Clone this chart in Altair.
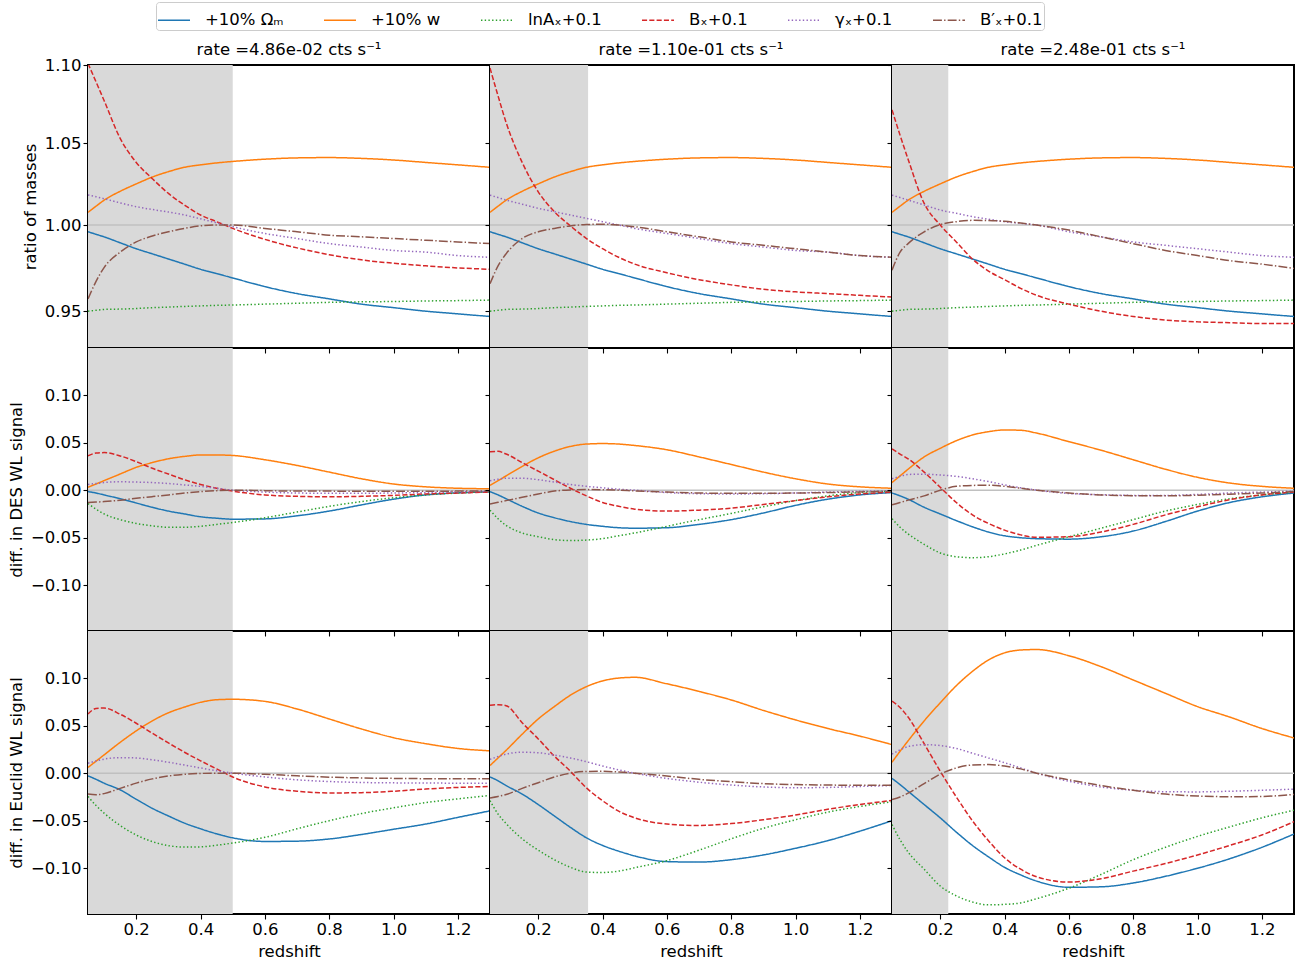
import altair as alt
import pandas as pd

FONT = "DejaVu Sans"
Z = [0.05, 0.075, 0.1, 0.15, 0.2, 0.25, 0.3, 0.35, 0.4, 0.45, 0.5, 0.6, 0.7, 0.8, 0.9, 1.0, 1.1, 1.2, 1.3]
SERIES = ["+10% Ωₘ", "+10% w", "lnAₓ+0.1", "Bₓ+0.1", "γₓ+0.1", "B′ₓ+0.1"]
COLORS = ["#1f77b4", "#ff7f0e", "#2ca02c", "#d62728", "#9467bd", "#8c564b"]
DASHES = [[1, 0], [1, 0], [1.4, 2.3], [5.1, 2.2], [1.4, 2.3], [8.9, 2.2, 1.4, 2.2]]
RATE_TITLES = ["rate =4.86e-02 cts s⁻¹", "rate =1.10e-01 cts s⁻¹", "rate =2.48e-01 cts s⁻¹"]
SHADE_END = [0.5, 0.355, 0.225]
ROW_TITLES = ["ratio of masses", "diff. in DES WL signal", "diff. in Euclid WL signal"]
X_TICKS = [0.2, 0.4, 0.6, 0.8, 1.0, 1.2]
MASS_TICKS = [0.95, 1.0, 1.05, 1.1]
DIFF_TICKS = [-0.1, -0.05, 0.0, 0.05, 0.1]

# ---- ratio of masses (top row) ----
MASS_OM = [0.996, 0.9945, 0.993, 0.9895, 0.986, 0.983, 0.980, 0.977, 0.974, 0.9715, 0.969, 0.964, 0.960, 0.957, 0.954, 0.952, 0.950, 0.9485, 0.947]
MASS_W = [1.0076, 1.0113, 1.0149, 1.0203, 1.0248, 1.029, 1.0323, 1.035, 1.0365, 1.0377, 1.0386, 1.040, 1.0408, 1.041, 1.0405, 1.0395, 1.038, 1.0365, 1.035]
MASS_LNA = [0.950, 0.9505, 0.951, 0.9512, 0.9515, 0.952, 0.9523, 0.9527, 0.953, 0.9533, 0.9535, 0.954, 0.9545, 0.955, 0.9553, 0.9555, 0.9558, 0.956, 0.9563]
MASS_BX = [
    [1.101, 1.089, 1.077, 1.053, 1.038, 1.028, 1.019, 1.012, 1.006, 1.002, 0.998, 0.9915, 0.9865, 0.9825, 0.9795, 0.9775, 0.976, 0.9748, 0.974],
    [1.098, 1.080, 1.063, 1.038, 1.020, 1.008, 0.9995, 0.992, 0.986, 0.981, 0.977, 0.972, 0.968, 0.965, 0.9625, 0.961, 0.960, 0.959, 0.958],
    [1.071, 1.055, 1.040, 1.013, 1.000, 0.990, 0.980, 0.973, 0.968, 0.963, 0.959, 0.954, 0.950, 0.947, 0.945, 0.944, 0.9435, 0.943, 0.943],
]
MASS_GX = [
    [1.018, 1.017, 1.0158, 1.0133, 1.011, 1.0093, 1.0078, 1.006, 1.0037, 1.0013, 0.999, 0.995, 0.992, 0.989, 0.987, 0.985, 0.984, 0.982, 0.981],
    [1.018, 1.0165, 1.015, 1.0125, 1.010, 1.008, 1.006, 1.004, 1.002, 1.000, 0.998, 0.995, 0.992, 0.989, 0.987, 0.985, 0.984, 0.982, 0.981],
    [1.018, 1.0165, 1.015, 1.012, 1.009, 1.007, 1.005, 1.0035, 1.002, 1.001, 1.0, 0.996, 0.993, 0.990, 0.988, 0.986, 0.984, 0.982, 0.981],
]
MASS_BPX = [
    [0.957, 0.967, 0.975, 0.984, 0.990, 0.9935, 0.996, 0.998, 0.9995, 1.0, 1.0, 0.998, 0.996, 0.994, 0.993, 0.992, 0.991, 0.990, 0.989],
    [0.9656, 0.976, 0.983, 0.992, 0.996, 0.998, 0.9995, 1.0003, 1.0005, 1.0, 0.999, 0.996, 0.993, 0.990, 0.988, 0.986, 0.984, 0.982, 0.981],
    [0.9735, 0.984, 0.989, 0.996, 1.0003, 1.002, 1.0028, 1.0027, 1.0022, 1.0012, 1.0, 0.997, 0.993, 0.989, 0.985, 0.982, 0.979, 0.977, 0.9745],
]

# ---- diff. in DES WL signal (middle row) ----
DES_OM = [
    [-0.0015, -0.003, -0.005, -0.009, -0.0135, -0.018, -0.022, -0.025, -0.028, -0.0295, -0.0305, -0.0302, -0.027, -0.022, -0.0155, -0.0095, -0.005, -0.0028, -0.0018],
    [-0.0015, -0.005, -0.009, -0.017, -0.024, -0.029, -0.033, -0.036, -0.038, -0.0395, -0.040, -0.0395, -0.036, -0.031, -0.024, -0.016, -0.0095, -0.005, -0.0025],
    [-0.003, -0.006, -0.0095, -0.018, -0.025, -0.032, -0.0385, -0.044, -0.048, -0.050, -0.051, -0.0515, -0.049, -0.043, -0.033, -0.022, -0.013, -0.007, -0.003],
]
DES_W = [
    [0.003, 0.0065, 0.010, 0.017, 0.024, 0.029, 0.033, 0.0355, 0.037, 0.037, 0.0365, 0.032, 0.026, 0.019, 0.012, 0.0065, 0.0035, 0.002, 0.0015],
    [0.005, 0.010, 0.015, 0.025, 0.034, 0.041, 0.046, 0.0485, 0.049, 0.0485, 0.047, 0.0425, 0.035, 0.027, 0.019, 0.012, 0.0065, 0.0035, 0.002],
    [0.008, 0.015, 0.022, 0.035, 0.044, 0.052, 0.058, 0.0615, 0.0633, 0.063, 0.060, 0.051, 0.042, 0.032, 0.022, 0.0135, 0.0075, 0.004, 0.002],
]
DES_LNA = [
    [-0.014, -0.020, -0.025, -0.031, -0.035, -0.0375, -0.039, -0.039, -0.038, -0.036, -0.034, -0.029, -0.023, -0.017, -0.012, -0.008, -0.005, -0.003, -0.0015],
    [-0.021, -0.030, -0.037, -0.045, -0.049, -0.052, -0.053, -0.0525, -0.051, -0.048, -0.045, -0.038, -0.031, -0.0245, -0.0175, -0.011, -0.006, -0.0025, -0.0008],
    [-0.030, -0.039, -0.046, -0.057, -0.066, -0.070, -0.071, -0.070, -0.067, -0.063, -0.058, -0.049, -0.040, -0.031, -0.022, -0.015, -0.009, -0.005, -0.002],
]
DES_BX = [
    [0.036, 0.039, 0.0395, 0.036, 0.030, 0.023, 0.017, 0.011, 0.006, 0.002, -0.001, -0.005, -0.0065, -0.007, -0.0065, -0.0055, -0.004, -0.003, -0.002],
    [0.0405, 0.0408, 0.038, 0.029, 0.020, 0.011, 0.002, -0.006, -0.013, -0.017, -0.020, -0.022, -0.021, -0.019, -0.015, -0.011, -0.007, -0.004, -0.002],
    [0.0434, 0.038, 0.033, 0.019, 0.003, -0.013, -0.026, -0.035, -0.042, -0.047, -0.0495, -0.049, -0.044, -0.036, -0.026, -0.0175, -0.010, -0.005, -0.002],
]
DES_GX = [
    [0.006, 0.007, 0.008, 0.0088, 0.0085, 0.008, 0.007, 0.0055, 0.004, 0.002, 0.0, -0.002, -0.003, -0.0033, -0.0033, -0.003, -0.0025, -0.0018, -0.0012],
    [0.010, 0.0115, 0.0125, 0.0125, 0.011, 0.0085, 0.006, 0.004, 0.0025, 0.001, 0.0, -0.0025, -0.0037, -0.004, -0.0037, -0.003, -0.002, -0.0012, -0.0006],
    [0.012, 0.0145, 0.0165, 0.0168, 0.016, 0.0145, 0.012, 0.009, 0.0055, 0.0025, 0.0, -0.0035, -0.0048, -0.0055, -0.0055, -0.0045, -0.003, -0.002, -0.001],
]
DES_BPX = [
    [-0.013, -0.0125, -0.012, -0.0105, -0.0085, -0.0068, -0.005, -0.003, -0.0015, -0.0005, 0.0, -0.0005, -0.001, -0.001, -0.0012, -0.0012, -0.0012, -0.001, -0.001],
    [-0.0145, -0.0128, -0.011, -0.0075, -0.004, -0.001, 0.0003, 0.0007, 0.0005, 0.0, -0.0008, -0.002, -0.003, -0.0033, -0.0033, -0.003, -0.0025, -0.0018, -0.0012],
    [-0.0155, -0.013, -0.0105, -0.006, 0.0, 0.004, 0.005, 0.0052, 0.004, 0.002, 0.0, -0.003, -0.005, -0.0058, -0.006, -0.0053, -0.0042, -0.003, -0.0015],
]

# ---- diff. in Euclid WL signal (bottom row) ----
EUC_OM = [
    [-0.0028, -0.0065, -0.0105, -0.0175, -0.0275, -0.037, -0.045, -0.0525, -0.0585, -0.0638, -0.068, -0.0718, -0.0715, -0.0692, -0.0645, -0.059, -0.0535, -0.0465, -0.0396],
    [-0.004, -0.008, -0.013, -0.022, -0.033, -0.045, -0.057, -0.068, -0.076, -0.082, -0.087, -0.093, -0.0935, -0.091, -0.086, -0.079, -0.071, -0.061, -0.050],
    [-0.0055, -0.012, -0.019, -0.033, -0.047, -0.062, -0.076, -0.088, -0.099, -0.107, -0.1135, -0.120, -0.1195, -0.1155, -0.1085, -0.100, -0.090, -0.078, -0.064],
]
EUC_W = [
    [0.006, 0.0126, 0.0192, 0.0324, 0.0445, 0.055, 0.0635, 0.0695, 0.0745, 0.0772, 0.0777, 0.0755, 0.0675, 0.057, 0.0465, 0.0373, 0.031, 0.026, 0.0235],
    [0.008, 0.016, 0.024, 0.041, 0.057, 0.070, 0.082, 0.091, 0.097, 0.100, 0.1008, 0.094, 0.086, 0.077, 0.066, 0.056, 0.047, 0.039, 0.030],
    [0.0115, 0.023, 0.034, 0.055, 0.074, 0.092, 0.107, 0.119, 0.1265, 0.1295, 0.130, 0.1235, 0.112, 0.098, 0.084, 0.070, 0.059, 0.047, 0.037],
]
EUC_LNA = [
    [-0.0245, -0.034, -0.042, -0.055, -0.065, -0.072, -0.0762, -0.0777, -0.0775, -0.0758, -0.0735, -0.0675, -0.0585, -0.050, -0.0425, -0.0365, -0.031, -0.027, -0.0235],
    [-0.029, -0.043, -0.053, -0.069, -0.081, -0.091, -0.099, -0.104, -0.1045, -0.103, -0.0995, -0.092, -0.081, -0.069, -0.058, -0.049, -0.041, -0.035, -0.030],
    [-0.054, -0.070, -0.083, -0.101, -0.1187, -0.129, -0.1355, -0.1385, -0.138, -0.1365, -0.132, -0.121, -0.1065, -0.091, -0.078, -0.0665, -0.0565, -0.047, -0.039],
]
EUC_BX = [
    [0.0623, 0.068, 0.0685, 0.062, 0.0525, 0.042, 0.0318, 0.022, 0.013, 0.0045, -0.004, -0.0145, -0.019, -0.0208, -0.0205, -0.019, -0.0167, -0.015, -0.014],
    [0.0715, 0.072, 0.071, 0.053, 0.036, 0.018, 0.002, -0.0155, -0.029, -0.040, -0.047, -0.0535, -0.055, -0.053, -0.049, -0.044, -0.038, -0.033, -0.0287],
    [0.0757, 0.069, 0.059, 0.031, 0.002, -0.025, -0.050, -0.071, -0.089, -0.101, -0.109, -0.1145, -0.111, -0.103, -0.095, -0.086, -0.076, -0.065, -0.051],
]
EUC_GX = [
    [0.0105, 0.0128, 0.0148, 0.0163, 0.016, 0.014, 0.0115, 0.0085, 0.0055, 0.0025, 0.0, -0.004, -0.007, -0.0088, -0.0098, -0.0102, -0.0104, -0.0105, -0.0105],
    [0.0145, 0.0175, 0.020, 0.022, 0.0215, 0.019, 0.016, 0.012, 0.0075, 0.0035, 0.0, -0.0055, -0.0095, -0.0125, -0.0145, -0.0153, -0.015, -0.014, -0.013],
    [0.020, 0.0245, 0.028, 0.030, 0.029, 0.026, 0.021, 0.016, 0.011, 0.0055, 0.0, -0.0085, -0.0145, -0.018, -0.0195, -0.0197, -0.019, -0.018, -0.0168],
]
EUC_BPX = [
    [-0.022, -0.0228, -0.0215, -0.016, -0.0105, -0.006, -0.003, -0.0012, -0.0003, 0.0, 0.0, -0.0012, -0.0028, -0.0042, -0.005, -0.0055, -0.0058, -0.006, -0.006],
    [-0.026, -0.0245, -0.0225, -0.016, -0.010, -0.004, 0.0, 0.0018, 0.002, 0.0012, 0.0, -0.003, -0.0065, -0.009, -0.011, -0.012, -0.0125, -0.0127, -0.0127],
    [-0.0277, -0.025, -0.021, -0.011, -0.001, 0.0055, 0.0086, 0.009, 0.0075, 0.0045, 0.0, -0.007, -0.013, -0.018, -0.022, -0.024, -0.0248, -0.0245, -0.0224],
]

W, H = 402, 283


def series_for(r, c):
    if r == 0:
        return [MASS_OM, MASS_W, MASS_LNA, MASS_BX[c], MASS_GX[c], MASS_BPX[c]]
    if r == 1:
        return [DES_OM[c], DES_W[c], DES_LNA[c], DES_BX[c], DES_GX[c], DES_BPX[c]]
    return [EUC_OM[c], EUC_W[c], EUC_LNA[c], EUC_BX[c], EUC_GX[c], EUC_BPX[c]]


LEGEND = alt.Legend(
    title=None, orient="none", legendX=68, legendY=-63, direction="horizontal",
    columns=6, columnPadding=37, symbolType="stroke", symbolSize=1024,
    symbolStrokeWidth=1.5, labelFont=FONT, labelFontSize=16.5, labelOffset=14,
    labelColor="black", strokeColor="#cccccc", cornerRadius=3, padding=1,
    fillColor="white", labelLimit=300,
)


def panel(r, c):
    rows = []
    for name, vals in zip(SERIES, series_for(r, c)):
        for z, v in zip(Z, vals):
            rows.append({"z": z, "v": v, "series": name})
    df = pd.DataFrame(rows)

    xscale = alt.Scale(domain=[0.05, 1.3], nice=False, zero=False)
    if r == 0:
        yscale = alt.Scale(type="log", domain=[0.9294, 1.10], nice=False)
        yticks, ref = MASS_TICKS, 1.0
    else:
        yscale = alt.Scale(domain=[-0.1481, 0.1495], nice=False, zero=False)
        yticks, ref = DIFF_TICKS, 0.0

    xaxis = alt.Axis(values=X_TICKS, format=".1f", labels=(r == 2),
                     title=("redshift" if r == 2 else None))
    yaxis = alt.Axis(values=yticks, format=".2f", labels=(c == 0),
                     title=(ROW_TITLES[r] if c == 0 else None))

    shade = alt.Chart(pd.DataFrame({"x0": [0.05], "x1": [SHADE_END[c]]})).mark_rect(
        color="#d9d9d9"
    ).encode(
        x=alt.X("x0:Q", scale=xscale, axis=xaxis),
        x2="x1:Q",
        y=alt.value(0),
        y2=alt.value(H),
    )
    rule = alt.Chart(pd.DataFrame({"ref": [ref]})).mark_rule(
        color="#c0c0c0", strokeWidth=1.5
    ).encode(y=alt.Y("ref:Q", scale=yscale, axis=yaxis))
    lines = alt.Chart(df).mark_line(strokeWidth=1.5, clip=True, interpolate="monotone").encode(
        x=alt.X("z:Q", scale=xscale, axis=xaxis),
        y=alt.Y("v:Q", scale=yscale, axis=yaxis),
        color=alt.Color("series:N", scale=alt.Scale(domain=SERIES, range=COLORS), legend=LEGEND),
        strokeDash=alt.StrokeDash("series:N", scale=alt.Scale(domain=SERIES, range=DASHES), legend=LEGEND),
    )
    ch = alt.layer(shade, rule, lines).properties(width=W, height=H)
    if r == 0:
        ch = ch.properties(title=alt.TitleParams(RATE_TITLES[c], font=FONT, fontSize=16.5,
                                                 fontWeight="normal", offset=(-1 if c == 0 else 6),
                                                 color="black", frame="group"))
    return ch


panels = [panel(r, c) for r in range(3) for c in range(3)]
chart = alt.concat(*panels, columns=3, spacing=0, bounds="flush").properties(
    padding={"left": 7, "top": 1, "right": 5, "bottom": 5}
).configure_view(stroke="black", strokeWidth=2).configure_axis(
    labelFont=FONT, labelFontSize=16.5, titleFont=FONT, titleFontSize=16.5,
    titleFontWeight="normal", labelColor="black", titleColor="black",
    tickColor="black", tickSize=5, tickWidth=1.1, domain=False, grid=False,
    labelPadding=2, titlePadding=6,
)

chart.save("out.html", embed_options={"renderer": "svg", "actions": False})
